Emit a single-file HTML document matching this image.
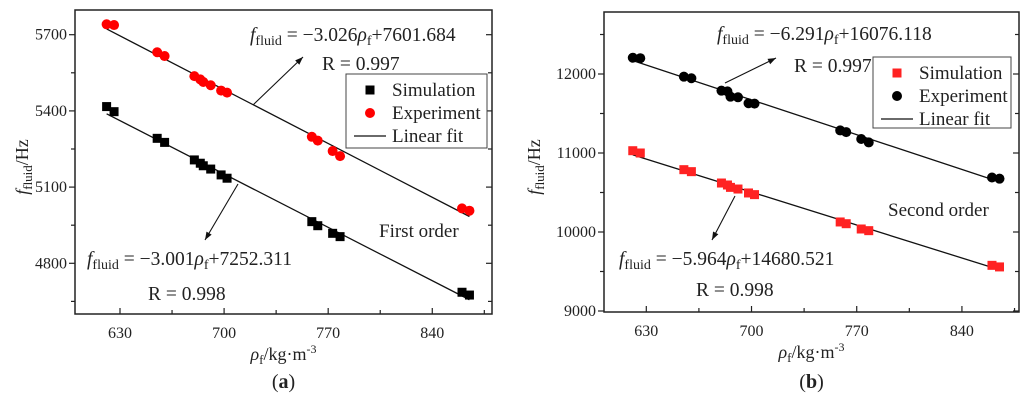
<!DOCTYPE html>
<html><head><meta charset="utf-8">
<style>
body{margin:0;background:#fff;}
svg{display:block;font-family:"Liberation Serif",serif;}
</style></head>
<body>
<svg id="c" width="1024" height="402" viewBox="0 0 1024 402"></svg>
<script>
const densities=[621,626,655,660,680,684,686,691,698,702,759,763,773,778,860,865];
const simA=[5417,5397,5292,5276,5207,5194,5184,5171,5148,5135,4964,4948,4918,4905,4686,4675];
const expA=[5741,5738,5631,5616,5537,5524,5514,5501,5480,5472,5298,5283,5242,5222,5016,5007];
const simB=[11029,11000,10789,10764,10620,10595,10565,10544,10494,10473,10127,10105,10038,10017,9578,9558];
const expB=[12206,12200,11966,11946,11789,11780,11713,11705,11630,11625,11286,11265,11177,11134,10690,10675];
const xTicks=[630,700,770,840];
const yTicksA=[4800,5100,5400,5700];
const yTicksB=[9000,10000,11000,12000];
const fitA_exp=[-3.026,7601.684], fitA_sim=[-3.001,7252.311];
const fitB_exp=[-6.291,16076.118], fitB_sim=[-5.964,14680.521];

const NS="http://www.w3.org/2000/svg";
const svg=document.getElementById('c');
function el(tag,attrs,parent){const e=document.createElementNS(NS,tag);for(const k in attrs)e.setAttribute(k,attrs[k]);(parent||svg).appendChild(e);return e;}

function panel(cfg){
  const g=el('g',{});
  
  
  const X=v=>cfg.x0px+(v-630)*cfg.xs;
  const Y=v=>cfg.y0px-(v-cfg.y0v)*cfg.ys;
  const L=cfg.L,R=cfg.R,T=cfg.T,B=cfg.B;
  const fr=el('rect',{x:L,y:T,width:R-L,height:B-T,fill:'none',stroke:'#222','stroke-width':1.5},g);
  
  for(let v=595;v<=885;v+=35){const px=X(v);if(px<L+2||px>R-2)continue;
    const major=xTicks.includes(v);
    el('line',{x1:px,x2:px,y1:B,y2:B-(major?6:4),stroke:'#222','stroke-width':1.2},g);}
  xTicks.forEach(v=>{const t=el('text',{x:X(v),y:B+24,'text-anchor':'middle','font-size':16,fill:'#222'},g);t.textContent=v;
    });
  const step=cfg.yt[1]-cfg.yt[0];
  for(let v=cfg.yt[0]-step;v<=cfg.yt[cfg.yt.length-1]+step;v+=step/2){const py=Y(v);if(py<T+2||py>B-1)continue;
    const major=cfg.yt.includes(v);
    el('line',{x1:L,x2:L-(major?6:4),y1:py,y2:py,stroke:'#222','stroke-width':1.2},g);
    el('line',{x1:R,x2:R-(major?6:4),y1:py,y2:py,stroke:'#222','stroke-width':1.2},g);}
  cfg.yt.forEach(v=>{const t=el('text',{x:L-8,y:Y(v)+5,'text-anchor':'end','font-size':16,fill:'#222'},g);t.textContent=v;
    });
  const yt=el('text',{transform:`translate(${cfg.ytx},${(T+B)/2+5}) rotate(-90)`,'text-anchor':'middle','font-size':18,fill:'#222'},g);
  yt.innerHTML='<tspan font-style="italic">f</tspan><tspan font-size="13" dy="4">fluid</tspan><tspan dy="-4">/Hz</tspan>';
  
  const xt=el('text',{x:(L+R)/2,y:B+46,'text-anchor':'middle','font-size':18,fill:'#222'},g);
  xt.innerHTML='<tspan font-style="italic">ρ</tspan><tspan font-size="13" dy="4">f</tspan><tspan dy="-4">/kg·m</tspan><tspan font-size="12" dy="-7">-3</tspan>';
  
  [cfg.fitTop,cfg.fitBot].forEach((f,i)=>{const x1=densities[0],x2=densities[densities.length-1];
    const ln=el('line',{x1:X(x1),y1:Y(f[0]*x1+f[1]),x2:X(x2),y2:Y(f[0]*x2+f[1]),stroke:'#111','stroke-width':1.3},g);
    });
  function sq(x,y,c){return el('rect',{x:x-4.5,y:y-4.5,width:9,height:9,fill:c},g);}
  function ci(x,y,c){return el('circle',{cx:x,cy:y,r:5,fill:c},g);}
  densities.forEach((d,i)=>{
    const a=sq(X(d),Y(cfg.sim[i]),cfg.simColor);
    const b=ci(X(d),Y(cfg.exp[i]),cfg.expColor);});
  const lg=el('g',{},g);
  const lb=cfg.leg;
  el('rect',{x:lb[0],y:lb[1],width:lb[2],height:lb[3],fill:'#fff',stroke:'#444','stroke-width':1},lg);
  const mx=lb[0]+24,tx=lb[0]+46;const ey=[lb[1]+16,lb[1]+39,lb[1]+62];
  lg.appendChild(sq(mx,ey[0],cfg.simColor));
  lg.appendChild(ci(mx,ey[1],cfg.expColor));
  el('line',{x1:mx-16,x2:mx+16,y1:ey[2],y2:ey[2],stroke:'#111','stroke-width':1.3},lg);
  ['Simulation','Experiment','Linear fit'].forEach((t,i)=>{const e=el('text',{x:tx,y:ey[i]+6,'font-size':19,fill:'#222'},lg);e.textContent=t;
    });
  cfg.eqs.forEach(q=>{const t=el('text',{x:q[0],y:q[1],'font-size':19.5,fill:'#222'},g);
    t.innerHTML='<tspan font-style="italic">f</tspan><tspan font-size="14" dy="4">fluid</tspan><tspan dy="-4"> = −'+q[2]+'</tspan><tspan font-style="italic">ρ</tspan><tspan font-size="14" dy="4">f</tspan><tspan dy="-4">+'+q[3]+'</tspan>';
    
    const r=el('text',{x:q[4],y:q[5],'font-size':19.5,fill:'#222'},g);r.textContent=q[6];
    });
  cfg.arrows.forEach(a=>{const ln=el('line',{x1:a[0],y1:a[1],x2:a[2],y2:a[3],stroke:'#111','stroke-width':1.1},g);
    
    const ang=Math.atan2(a[3]-a[1],a[2]-a[0]);const h=8,w=3;
    const bx=a[2]-h*Math.cos(ang),by=a[3]-h*Math.sin(ang);
    el('polygon',{points:`${a[2]},${a[3]} ${bx-w*Math.sin(ang)},${by+w*Math.cos(ang)} ${bx+w*Math.sin(ang)},${by-w*Math.cos(ang)}`,fill:'#111'},g);});
  const o=el('text',{x:cfg.order[0],y:cfg.order[1],'font-size':19,fill:'#222'},g);o.textContent=cfg.order[2];
  
  const cap=el('text',{x:(L+R)/2,y:388,'text-anchor':'middle','font-size':20,fill:'#222'},g);
  cap.innerHTML='(<tspan font-weight="bold">'+cfg.cap+'</tspan>)';
  
}

panel({name:'panel-a-first-order',L:75,R:492,T:10,B:314,x0px:120,xs:1.487,y0v:5700,y0px:34.7,ys:76.2/300,yt:yTicksA,ytx:28,
  sim:simA,exp:expA,simColor:'#000',expColor:'#f00',fitTop:fitA_exp,fitBot:fitA_sim,leg:[346,74,141,74],
  eqs:[[250,41,'3.026','7601.684',322,70,'R = 0.997'],[87,265,'3.001','7252.311',148,300,'R = 0.998']],
  arrows:[[253,105,303,57],[238,184,205,240]],order:[379,237,'First order'],cap:'a'});
panel({name:'panel-b-second-order',L:604,R:1019,T:12,B:312,x0px:646.3,xs:1.503,y0v:12000,y0px:74,ys:79/1000,yt:yTicksB,ytx:540,
  sim:simB,exp:expB,simColor:'#f22',expColor:'#000',fitTop:fitB_exp,fitBot:fitB_sim,leg:[873,57,138,71],
  eqs:[[717,40,'6.291','16076.118',794,72,'R = 0.997'],[619,265,'5.964','14680.521',696,296,'R = 0.998']],
  arrows:[[725,83,776,58],[735,196,712,240]],order:[888,216,'Second order'],cap:'b'});
</script>
</body></html>
